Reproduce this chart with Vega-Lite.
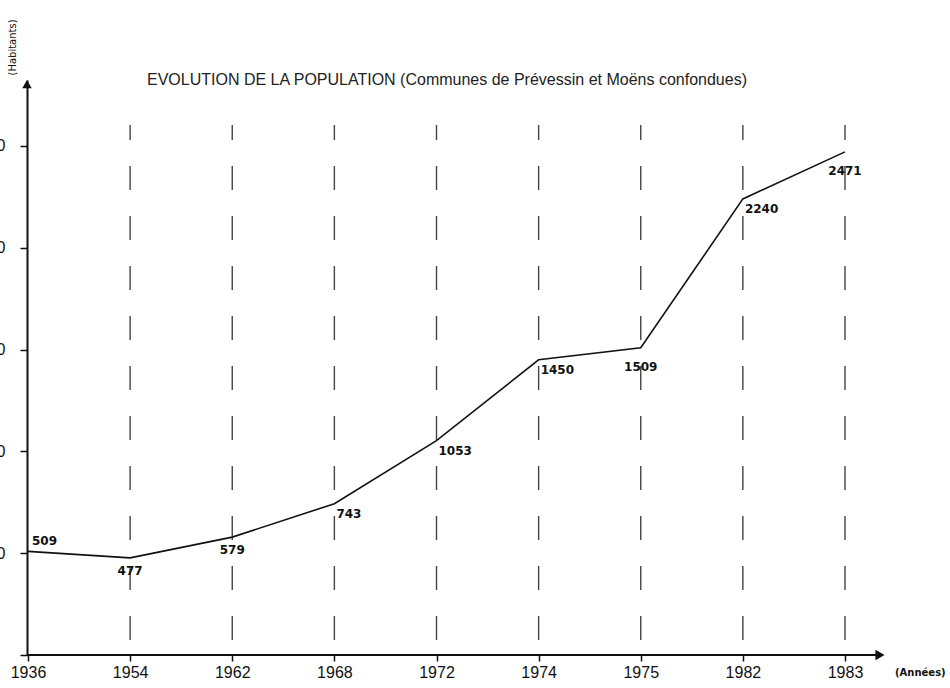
{
  "$schema": "https://vega.github.io/schema/vega-lite/v6.json",
  "width": 853,
  "height": 575,
  "autosize": {"type": "none"},
  "padding": {"left": 27, "top": 80, "right": 70, "bottom": 33},
  "background": "white",
  "config": {"view": {"stroke": null}, "font": "Liberation Sans"},
  "resolve": {"scale": {"x": "independent"}, "axis": {"x": "independent"}},
  "layer": [
    {
      "data": {
        "values": [
          {"year": 1936, "pop": 509},
          {"year": 1954, "pop": 477},
          {"year": 1962, "pop": 579},
          {"year": 1968, "pop": 743},
          {"year": 1972, "pop": 1053},
          {"year": 1974, "pop": 1450},
          {"year": 1975, "pop": 1509},
          {"year": 1982, "pop": 2240},
          {"year": 1983, "pop": 2471}
        ]
      },
      "encoding": {
        "x": {
          "field": "year",
          "type": "ordinal",
          "scale": {"type": "point", "range": [1, 818], "padding": 0},
          "axis": {
            "title": null,
            "domain": false,
            "labelAngle": 0,
            "labelFontSize": 16,
            "labelFont": "Liberation Sans",
            "labelColor": "#111",
            "tickSize": 6,
            "tickWidth": 1.5,
            "tickColor": "#111",
            "labelPadding": 3,
            "grid": false
          }
        }
      },
      "layer": [
        {
          "transform": [{"filter": "datum.year != 1936"}],
          "mark": {"type": "rule", "strokeDash": [24, 26], "strokeWidth": 1.4, "color": "#444"},
          "encoding": {
            "y": {"datum": 74, "type": "quantitative"},
            "y2": {"datum": 2603}
          }
        },
        {
          "mark": {"type": "line", "color": "#111", "strokeWidth": 1.6},
          "encoding": {
            "y": {
              "field": "pop",
              "type": "quantitative",
              "scale": {"domain": [0, 2824], "nice": false},
              "axis": {
                "values": [0, 500, 1000, 1500, 2000, 2500],
                "labelExpr": "datum.value == 0 ? '' : datum.label",
                "format": "d",
                "grid": false,
                "domainColor": "#111",
                "domainWidth": 2,
                "tickColor": "#111",
                "tickWidth": 1.5,
                "tickSize": 7,
                "labelPadding": 15,
                "labelFontSize": 16,
                "labelColor": "#111",
                "title": "(Habitants)",
                "titleAngle": -90,
                "titleX": -15,
                "titleY": -5,
                "titleAlign": "left",
                "titleBaseline": "middle",
                "titleFontSize": 10,
                "titleFontWeight": "normal",
                "titleFont": "DejaVu Sans",
                "titleColor": "#111"
              }
            }
          }
        },
        {
          "transform": [{"filter": "datum.year == 1936"}],
          "mark": {"type": "text", "align": "left", "baseline": "middle", "dx": 4, "dy": -10, "font": "DejaVu Sans", "fontWeight": "bold", "fontSize": 12, "color": "#111"},
          "encoding": {"y": {"field": "pop", "type": "quantitative"}, "text": {"field": "pop"}}
        },
        {
          "transform": [{"filter": "datum.year == 1954 || datum.year == 1962"}],
          "mark": {"type": "text", "align": "center", "baseline": "middle", "dy": 13, "font": "DejaVu Sans", "fontWeight": "bold", "fontSize": 12, "color": "#111"},
          "encoding": {"y": {"field": "pop", "type": "quantitative"}, "text": {"field": "pop"}}
        },
        {
          "transform": [{"filter": "datum.year == 1975 || datum.year == 1983"}],
          "mark": {"type": "text", "align": "center", "baseline": "middle", "dy": 19, "font": "DejaVu Sans", "fontWeight": "bold", "fontSize": 12, "color": "#111"},
          "encoding": {"y": {"field": "pop", "type": "quantitative"}, "text": {"field": "pop"}}
        },
        {
          "transform": [{"filter": "datum.year == 1968 || datum.year == 1972 || datum.year == 1974 || datum.year == 1982"}],
          "mark": {"type": "text", "align": "left", "baseline": "middle", "dx": 2, "dy": 10, "font": "DejaVu Sans", "fontWeight": "bold", "fontSize": 12, "color": "#111"},
          "encoding": {"y": {"field": "pop", "type": "quantitative"}, "text": {"field": "pop"}}
        }
      ]
    },
    {
      "data": {"values": [{}]},
      "layer": [
        {
          "mark": {"type": "rule", "color": "#111", "strokeWidth": 2},
          "encoding": {
            "x": {"datum": 0, "type": "quantitative", "scale": {"domain": [0, 1], "nice": false, "zero": false}, "axis": null},
            "x2": {"datum": 1},
            "y": {"datum": 0, "type": "quantitative"}
          }
        },
        {
          "mark": {"type": "point", "shape": "triangle-right", "filled": true, "color": "#111", "size": 110, "opacity": 1},
          "encoding": {
            "x": {"datum": 1, "type": "quantitative", "axis": null},
            "y": {"datum": 0, "type": "quantitative"}
          }
        },
        {
          "mark": {"type": "point", "shape": "triangle-up", "filled": true, "color": "#111", "size": 90, "opacity": 1},
          "encoding": {
            "x": {"datum": 0, "type": "quantitative", "axis": null},
            "y": {"datum": 2804, "type": "quantitative"}
          }
        },
        {
          "mark": {"type": "text", "align": "left", "baseline": "middle", "dy": 18, "font": "DejaVu Sans", "fontWeight": "bold", "fontSize": 10, "color": "#111", "text": "(Années)"},
          "encoding": {
            "x": {"datum": 1.0176, "type": "quantitative", "axis": null},
            "y": {"datum": 0, "type": "quantitative"}
          }
        },
        {
          "mark": {"type": "text", "align": "left", "baseline": "middle", "font": "Liberation Sans", "fontSize": 16, "color": "#222", "text": "EVOLUTION DE LA POPULATION (Communes de Prévessin et Moëns confondues)"},
          "encoding": {
            "x": {"datum": 0.1407, "type": "quantitative", "axis": null},
            "y": {"datum": 2824, "type": "quantitative"}
          }
        }
      ]
    }
  ]
}
